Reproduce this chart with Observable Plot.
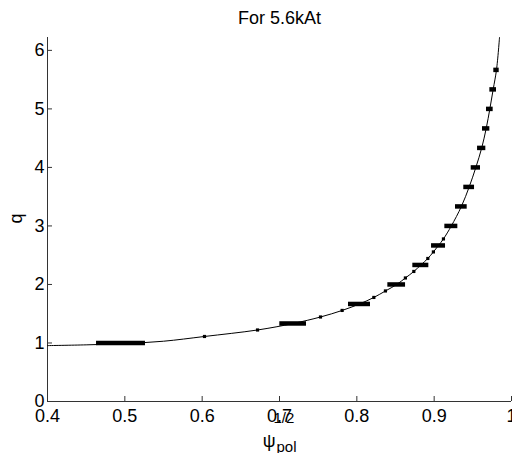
<!DOCTYPE html>
<html>
<head>
<meta charset="utf-8">
<script src="https://cdn.jsdelivr.net/npm/d3@7"></script>
<script src="https://cdn.jsdelivr.net/npm/@observablehq/plot@0.6"></script>
<style>
  html, body { margin: 0; padding: 0; background: white; }
</style>
</head>
<body>
<div id="chart"></div>
<script>
// q profile vs sqrt(psi_pol)
const psi = [0.40, 0.45, 0.50, 0.55, 0.603, 0.6716, 0.7176, 0.753, 0.781, 0.8035, 0.822, 0.837, 0.8516, 0.8628, 0.8737, 0.8828, 0.8918, 0.8990, 0.9057, 0.9120, 0.9222, 0.9352, 0.9453, 0.9539, 0.9615, 0.9673, 0.9720, 0.9763, 0.9806, 0.9845];
const q   = [0.955, 0.968, 0.990, 1.030, 1.111, 1.222, 1.333, 1.444, 1.556, 1.667, 1.778, 1.889, 2.000, 2.111, 2.222, 2.333, 2.444, 2.556, 2.667, 2.778, 3.000, 3.333, 3.667, 4.000, 4.333, 4.667, 5.000, 5.333, 5.667, 6.220];

// rational surfaces (thick bars)
const barQ  = [1, 4/3, 5/3, 2, 7/3, 8/3, 3, 10/3, 11/3, 4, 13/3, 14/3, 5, 16/3, 17/3];
const barX1 = [0.4634, 0.7004, 0.7892, 0.8401, 0.8724, 0.8966, 0.9138, 0.9276, 0.9383, 0.9479, 0.9561, 0.9625, 0.9677, 0.9720, 0.9771];
const barX2 = [0.5267, 0.7349, 0.8177, 0.8630, 0.8931, 0.9147, 0.9306, 0.9427, 0.9522, 0.9599, 0.9668, 0.9720, 0.9763, 0.9806, 0.9841];

// small markers
const dotPsi = [0.603, 0.6716, 0.753, 0.781, 0.822, 0.837, 0.8628, 0.8737, 0.8918, 0.8990, 0.9120];
const dotQ   = [1.111, 1.222, 1.444, 1.556, 1.778, 1.889, 2.111, 2.222, 2.444, 2.556, 2.778];

const xTicks = [0.4, 0.5, 0.6, 0.7, 0.8, 0.9, 1];
const xTickLabels = ["0.4", "0.5", "0.6", "0.7", "0.8", "0.9", "1"];
const yTicks = [0, 1, 2, 3, 4, 5, 6];
const yTickLabels = ["0", "1", "2", "3", "4", "5", "6"];

const title = "For 5.6kAt";
const yLabel = "q";
const xLabelMain = "ψ";
const xLabelSup = "1/2";
const xLabelSub = "pol";

const curve = psi.map((p, i) => ({psi: p, q: q[i]}));
const bars = barQ.map((v, i) => ({q: v, x1: barX1[i], x2: barX2[i]}));
const dots = dotPsi.map((p, i) => ({psi: p, q: dotQ[i]}));

const W = 512, H = 453, mL = 47, mR = 1, mT = 37, mB = 52;
const frameW = W - mL - mR, frameH = H - mT - mB;
const axisColor = "#333";

const chart = Plot.plot({
  width: W, height: H,
  marginLeft: mL, marginRight: mR, marginTop: mT, marginBottom: mB,
  x: {domain: [0.4, 1]},
  y: {domain: [0, 6.22]},
  style: {fontFamily: "'Liberation Sans', Arial, Helvetica, sans-serif", fontSize: "18px", background: "white", color: "black"},
  marks: [
    Plot.axisX(xTicks, {tickSize: 0, tickPadding: 8, fontSize: 18, tickFormat: d => xTickLabels[xTicks.indexOf(d)], label: null}),
    Plot.axisY(yTicks, {tickSize: 0, tickPadding: 3, fontSize: 18, tickFormat: d => yTickLabels[yTicks.indexOf(d)], label: null}),
    Plot.ruleX([0.4], {stroke: axisColor}),
    Plot.ruleY([0], {stroke: axisColor}),
    Plot.tickX(xTicks, {x: d => d, insetTop: frameH - 5, stroke: axisColor}),
    Plot.tickY(yTicks, {y: d => d, insetRight: frameW - 5, stroke: axisColor}),
    Plot.line(curve, {x: "psi", y: "q", stroke: "black", strokeWidth: 1, curve: "catmull-rom"}),
    Plot.ruleY(bars, {y: "q", x1: "x1", x2: "x2", stroke: "black", strokeWidth: 4.5}),
    Plot.dot(dots, {x: "psi", y: "q", symbol: "square", r: 1.8, fill: "black", stroke: null}),
    Plot.text([title], {frameAnchor: "top", lineAnchor: "bottom", dy: -14, fontSize: 18, fill: "black"}),
    Plot.text([yLabel], {frameAnchor: "left", lineAnchor: "bottom", textAnchor: "middle", fontSize: 18, fill: "black"}),
    Plot.text([xLabelMain], {frameAnchor: "bottom", lineAnchor: "bottom", textAnchor: "end", dx: -4, dy: 45, fontSize: 18, fill: "black"}),
    Plot.text([xLabelSup], {frameAnchor: "bottom", lineAnchor: "bottom", textAnchor: "start", dx: -6, dy: 21, fontSize: 15, fill: "black"}),
    Plot.text([xLabelSub], {frameAnchor: "bottom", lineAnchor: "bottom", textAnchor: "start", dx: -3, dy: 50, fontSize: 15, fill: "black"})
  ]
});
// y label reads bottom-to-top, placed left of the axis
d3.select(chart).selectAll("text").filter(function() { return this.textContent === yLabel; })
  .attr("x", null).attr("y", null)
  .attr("transform", `translate(${mL - 26},${(mT + H - mB) / 2 - 1}) rotate(-90)`);
document.getElementById("chart").appendChild(chart);
</script>
</body>
</html>
